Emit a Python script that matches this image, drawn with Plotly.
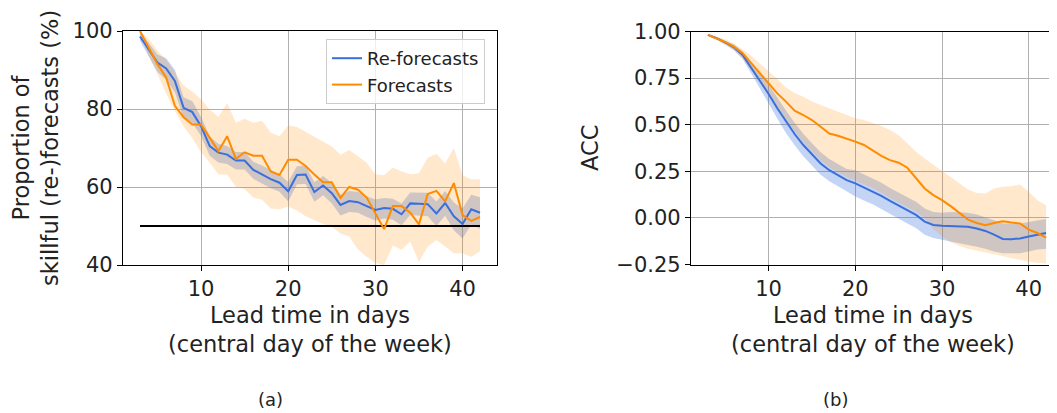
import plotly.graph_objects as go
from plotly.subplots import make_subplots

# lead time (central day of the week)
days = list(range(3, 43))

# (a) proportion of skillful (re-)forecasts, %
re_prop = [98.6, 95.4, 91.9, 90.4, 87.2, 80.3, 79.2, 75.6, 70.5, 68.8,
           68.3, 66.8, 66.8, 64.4, 63.2, 62.0, 61.1, 58.9, 63.1, 63.2,
           58.7, 60.4, 58.4, 55.4, 56.4, 56.1, 55.1, 54.1, 54.6, 54.4,
           53.0, 55.8, 55.7, 55.6, 53.2, 55.9, 52.5, 50.5, 54.3, 53.4]
re_prop_hi = [99.5, 97.0, 94.0, 93.0, 90.0, 83.0, 82.0, 78.0, 73.0, 71.0,
              70.5, 69.0, 69.0, 66.5, 65.5, 64.3, 63.3, 61.3, 65.3, 65.5,
              61.2, 62.8, 61.0, 58.0, 59.0, 58.7, 57.6, 56.8, 57.2, 57.0,
              55.8, 58.6, 58.5, 58.5, 56.3, 59.0, 56.0, 54.5, 58.0, 57.4]
re_prop_lo = [97.5, 93.5, 89.5, 87.5, 84.3, 77.7, 76.5, 73.1, 68.0, 66.3,
              65.9, 64.5, 64.5, 62.1, 60.9, 59.7, 58.8, 56.3, 60.7, 60.8,
              56.2, 57.9, 55.8, 52.7, 53.6, 53.4, 52.3, 51.4, 51.9, 51.6,
              50.2, 52.8, 52.7, 52.5, 50.0, 52.6, 48.9, 46.8, 50.4, 49.3]
fc_prop = [100.0, 95.8, 91.5, 88.1, 80.8, 77.9, 76.0, 76.0, 72.6, 69.2,
           73.0, 67.2, 68.9, 68.0, 68.0, 64.0, 63.1, 67.0, 67.0, 65.4,
           63.2, 61.2, 61.2, 57.2, 60.0, 59.3, 57.3, 53.2, 49.2, 55.1,
           55.1, 53.4, 50.4, 58.2, 59.0, 56.3, 61.0, 52.8, 51.3, 52.3]
fc_prop_hi = [100.0, 98.0, 95.0, 92.5, 89.5, 86.0, 84.5, 82.5, 79.8, 78.0,
              81.5, 76.5, 77.5, 76.5, 77.0, 73.9, 73.0, 75.8, 75.4, 74.1,
              73.0, 71.5, 70.4, 68.3, 69.5, 67.9, 66.2, 63.3, 63.0, 65.0,
              64.0, 63.3, 63.5, 67.5, 68.5, 66.0, 70.0, 63.0, 62.0, 62.0]
fc_prop_lo = [99.5, 93.5, 89.0, 84.0, 79.5, 75.5, 72.5, 69.0, 66.3, 63.2,
              63.2, 60.0, 59.5, 57.3, 56.7, 54.5, 54.3, 55.0, 54.0, 52.5,
              51.5, 50.5, 49.8, 48.1, 47.3, 44.0, 42.1, 40.5, 40.0, 45.0,
              43.9, 46.0, 40.8, 44.7, 46.4, 44.7, 43.0, 43.0, 42.1, 43.5]
chance_level = 50

# (b) anomaly correlation coefficient
re_acc = [0.982, 0.964, 0.941, 0.915, 0.874, 0.805, 0.740, 0.665, 0.588, 0.516,
          0.450, 0.391, 0.340, 0.292, 0.256, 0.229, 0.203, 0.185, 0.163, 0.143,
          0.118, 0.091, 0.066, 0.040, 0.016, -0.020, -0.038, -0.042, -0.043, -0.045,
          -0.047, -0.057, -0.070, -0.090, -0.113, -0.114, -0.110, -0.100, -0.090, -0.081]
re_acc_hi = [0.986, 0.970, 0.951, 0.930, 0.894, 0.835, 0.780, 0.715, 0.643, 0.576,
             0.510, 0.451, 0.400, 0.352, 0.316, 0.289, 0.263, 0.255, 0.233, 0.213,
             0.188, 0.161, 0.136, 0.110, 0.086, 0.050, 0.032, 0.028, 0.032, 0.030,
             0.028, 0.018, 0.005, -0.012, -0.030, -0.032, -0.030, -0.022, -0.015, -0.006]
re_acc_lo = [0.978, 0.958, 0.931, 0.900, 0.854, 0.775, 0.700, 0.615, 0.533, 0.456,
             0.390, 0.331, 0.280, 0.232, 0.196, 0.169, 0.143, 0.115, 0.093, 0.073,
             0.048, 0.021, -0.004, -0.030, -0.054, -0.090, -0.108, -0.114, -0.125, -0.135,
             -0.145, -0.155, -0.165, -0.180, -0.190, -0.190, -0.190, -0.180, -0.170, -0.165]
fc_acc = [0.982, 0.964, 0.943, 0.919, 0.884, 0.830, 0.776, 0.722, 0.668, 0.624,
          0.575, 0.552, 0.525, 0.489, 0.453, 0.441, 0.427, 0.409, 0.391, 0.360,
          0.333, 0.310, 0.296, 0.269, 0.211, 0.158, 0.122, 0.095, 0.063, 0.027,
          -0.009, -0.027, -0.039, -0.027, -0.018, -0.025, -0.030, -0.063, -0.081, -0.106]
fc_acc_hi = [0.988, 0.975, 0.958, 0.935, 0.905, 0.870, 0.830, 0.790, 0.745, 0.700,
             0.670, 0.650, 0.625, 0.606, 0.588, 0.570, 0.548, 0.534, 0.525, 0.511,
             0.493, 0.471, 0.444, 0.400, 0.355, 0.319, 0.283, 0.251, 0.220, 0.184,
             0.152, 0.134, 0.131, 0.158, 0.167, 0.170, 0.179, 0.140, 0.095, 0.068]
fc_acc_lo = [0.976, 0.955, 0.928, 0.898, 0.855, 0.790, 0.728, 0.660, 0.600, 0.530,
             0.465, 0.405, 0.355, 0.308, 0.272, 0.245, 0.220, 0.200, 0.180, 0.160,
             0.135, 0.108, 0.083, 0.057, 0.033, 0.000, -0.060, -0.100, -0.130, -0.150,
             -0.165, -0.175, -0.185, -0.195, -0.205, -0.215, -0.225, -0.235, -0.240, -0.245]

BLUE = "#3a6fdc"
ORANGE = "#ff8c00"
BLUE_FILL = "rgba(58,111,220,0.30)"
ORANGE_FILL = "rgba(255,140,0,0.20)"
FONT = "DejaVu Sans"
# the page body has an 8px margin, so the figure sits at (8, 8) in the window
OFF = 8
W, H = 1057 - OFF, 413 - OFF


def px(x):
    return (x - OFF) / W


def py(y):
    return 1 - (y - OFF) / H


fig = make_subplots(rows=1, cols=2)


def band(lo, hi, color, col):
    fig.add_trace(go.Scatter(x=days + days[::-1], y=hi + lo[::-1], fill="toself",
                             fillcolor=color, line=dict(width=0), mode="lines",
                             showlegend=False, hoverinfo="skip"), row=1, col=col)


# bands first, then lines on top
band(re_prop_lo, re_prop_hi, BLUE_FILL, 1)
band(fc_prop_lo, fc_prop_hi, ORANGE_FILL, 1)
band(re_acc_lo, re_acc_hi, BLUE_FILL, 2)
band(fc_acc_lo, fc_acc_hi, ORANGE_FILL, 2)

fig.add_trace(go.Scatter(x=[days[0], days[-1]], y=[chance_level, chance_level], mode="lines",
                         line=dict(color="black", width=2), showlegend=False), row=1, col=1)
fig.add_trace(go.Scatter(x=days, y=re_prop, mode="lines", name="Re-forecasts",
                         line=dict(color=BLUE, width=2)), row=1, col=1)
fig.add_trace(go.Scatter(x=days, y=fc_prop, mode="lines", name="Forecasts",
                         line=dict(color=ORANGE, width=2)), row=1, col=1)
fig.add_trace(go.Scatter(x=days, y=re_acc, mode="lines", showlegend=False,
                         line=dict(color=BLUE, width=2)), row=1, col=2)
fig.add_trace(go.Scatter(x=days, y=fc_acc, mode="lines", showlegend=False,
                         line=dict(color=ORANGE, width=2)), row=1, col=2)

axis_style = dict(showline=True, linecolor="black", linewidth=1.3, ticks="outside",
                  ticklen=5, tickcolor="black", tickwidth=1.2, showgrid=True,
                  gridcolor="#b0b0b0", gridwidth=1, zeroline=False, automargin=False,
                  tickfont=dict(family=FONT, size=21, color="#222"))

fig.update_xaxes(**axis_style, tickvals=[10, 20, 30, 40])
fig.update_xaxes(domain=[px(123), px(497)], range=[1.05, 43.95], mirror=True, row=1, col=1)
fig.update_xaxes(domain=[px(691), 1.0], range=[1.05, 43.26], mirror=True, row=1, col=2)
fig.update_yaxes(**axis_style)
fig.update_yaxes(domain=[py(265), py(31)], range=[40, 100], tickvals=[40, 60, 80, 100],
                 mirror=True, row=1, col=1)
fig.update_yaxes(domain=[py(264.5), py(31.5)], range=[-0.25, 1.0],
                 tickvals=[-0.25, 0, 0.25, 0.5, 0.75, 1.0], tickformat=".2f", row=1, col=2)

label_font = dict(family=FONT, size=22.5, color="#222")
xlabel = "Lead time in days<br>(central day of the week)"
annotations = [
    dict(x=px(310), y=py(329), text=xlabel, font=label_font),
    dict(x=px(873), y=py(329), text=xlabel, font=label_font),
    dict(x=px(35), y=py(148), text="Proportion of<br>skillful (re-)forecasts (%)",
         textangle=-90, font=label_font),
    dict(x=px(590), y=py(148), text="ACC", textangle=-90, font=label_font),
    dict(x=px(270), y=py(399), text="(a)", font=dict(family=FONT, size=18, color="#222")),
    dict(x=px(835), y=py(399), text="(b)", font=dict(family=FONT, size=18, color="#222")),
]
for a in annotations:
    a.update(xref="paper", yref="paper", showarrow=False, xanchor="center", yanchor="middle")

fig.update_layout(
    width=W, height=H, margin=dict(l=0, r=0, t=0, b=0),
    paper_bgcolor="white", plot_bgcolor="white",
    font=dict(family=FONT, color="#222"),
    annotations=annotations,
    legend=dict(x=px(485), y=py(39), xanchor="right", yanchor="top",
                bgcolor="rgba(255,255,255,0.8)", bordercolor="#cccccc", borderwidth=1,
                font=dict(family=FONT, size=18, color="#222")),
)

fig.write_html("out.html")
